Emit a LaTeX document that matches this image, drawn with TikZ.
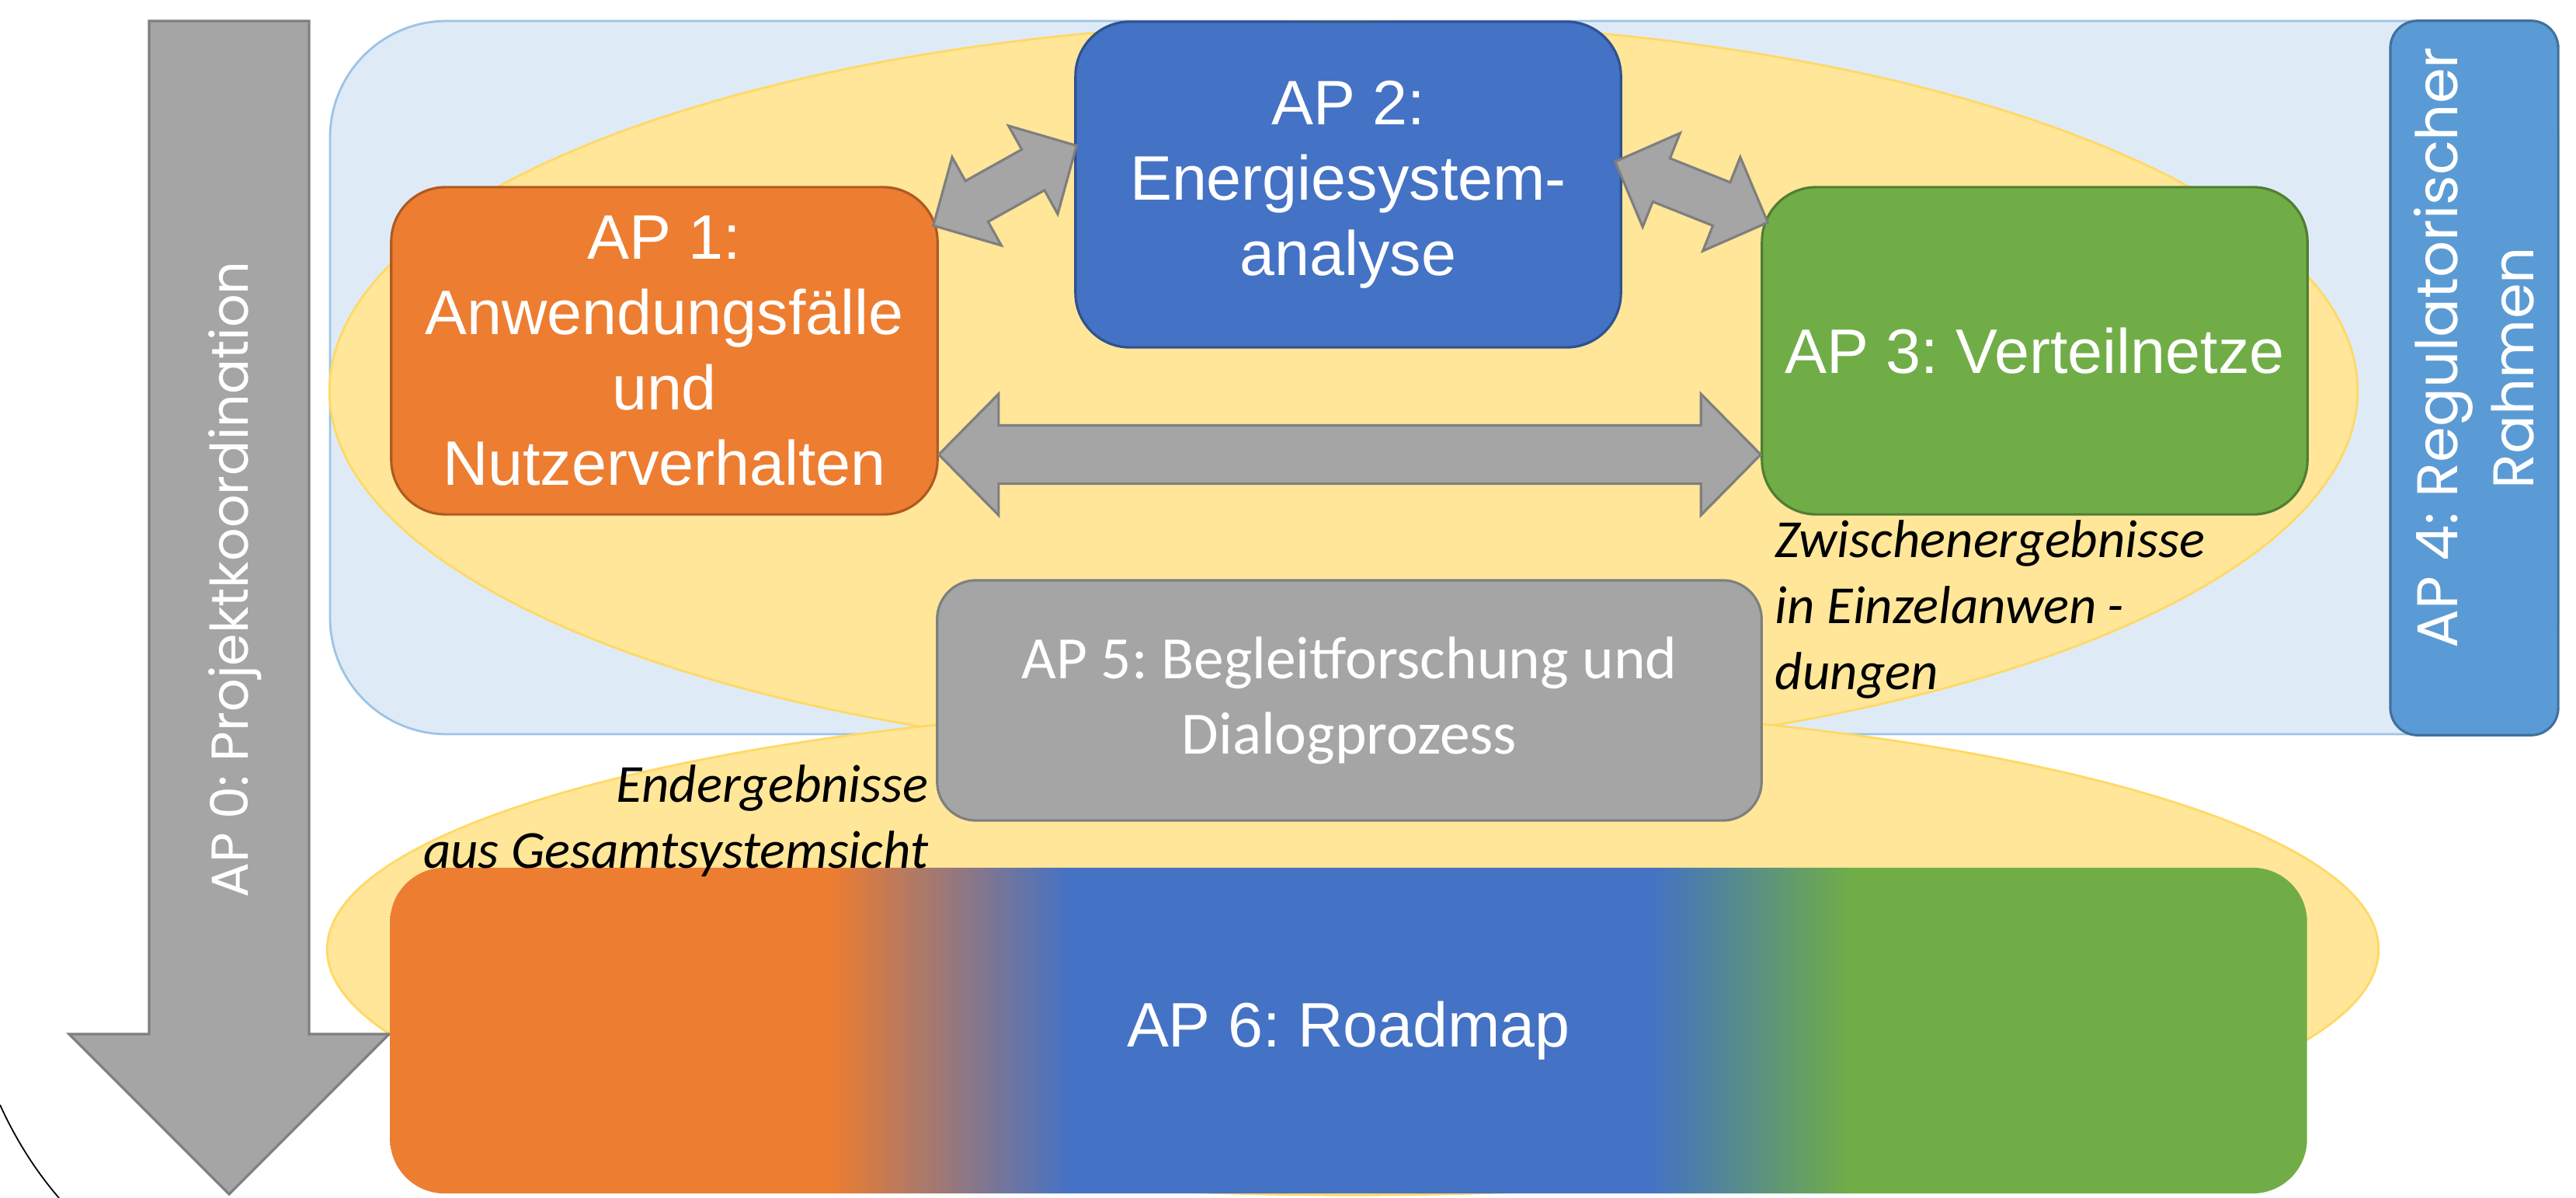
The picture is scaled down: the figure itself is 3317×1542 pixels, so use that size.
\documentclass[tikz,border=0pt]{standalone}
\usepackage{fontspec}
\usepackage{tikz}
\usetikzlibrary{calc}
\newfontfamily\arialfont{Liberation Sans}
\newfontfamily\calibrifont{Carlito}
\newfontfamily\gothicfont{Poppins}
\frenchspacing
\newcommand{\pixel}{0.01cm}
\definecolor{aporange}{HTML}{ED7D31}
\definecolor{aporangeline}{HTML}{AE5A21}
\definecolor{apblue}{HTML}{4472C4}
\definecolor{apblueline}{HTML}{2F528F}
\definecolor{apgreen}{HTML}{70AD47}
\definecolor{apgreenline}{HTML}{507E32}
\definecolor{apgray}{HTML}{A5A5A5}
\definecolor{apgrayline}{HTML}{7F7F7F}
\definecolor{apsky}{HTML}{5B9BD5}
\definecolor{apskyline}{HTML}{41719C}
\definecolor{apframe}{HTML}{DEEBF7}
\definecolor{apframeline}{HTML}{9DC3E6}
\definecolor{cloud}{HTML}{FFE699}
\definecolor{cloudline}{HTML}{FFD966}
\pgfdeclarehorizontalshading{roadmapshade}{100bp}{color(0bp)=(aporange); color(36.5bp)=(aporange); color(42.7bp)=(apblue); color(57.9bp)=(apblue); color(63.1bp)=(apgreen); color(100bp)=(apgreen)}
\newcommand{\fatarrow}[5]{
	\coordinate (fa1) at ($(#1)!#3!(#2)$);
	\coordinate (fa2) at ($(#2)!#3!(#1)$);
	\draw[fatline] (#1) -- ($(fa1)!#4!90:(#2)$) -- ($(fa1)!#5!90:(#2)$) -- ($(fa2)!#5!-90:(#1)$) -- ($(fa2)!#4!-90:(#1)$) -- (#2)
		-- ($(fa2)!#4!90:(#1)$) -- ($(fa2)!#5!90:(#1)$) -- ($(fa1)!#5!-90:(#2)$) -- ($(fa1)!#4!-90:(#2)$) -- cycle;
}

\begin{document}
\begin{tikzpicture}[x=\pixel,y=-\pixel,
	apbox/.style={draw, line width=0.9pt, rounded corners=0.7cm, inner sep=0pt, text=white, align=center, font=\arialfont\fontsize{23pt}{27.6pt}\selectfont},
	fatline/.style={draw=apgrayline, fill=apgray, line width=0.9pt},
	note/.style={inner sep=0pt, font=\calibrifont\itshape\fontsize{19.6pt}{24.2pt}\selectfont}]
	\useasboundingbox (0,0) rectangle (3317,1542);

	\draw[fill=apframe, draw=apframeline, line width=0.8pt, rounded corners=1.5cm] (425,27) rectangle (3294,945);
	\draw[fill=cloud, draw=cloudline, line width=0.8pt] (1730,503) ellipse [x radius=13.05cm, y radius=4.75cm];
	\draw[fill=cloud, draw=cloudline, line width=0.8pt] (1742,1222) ellipse [x radius=13.2cm, y radius=3.16cm];
	\draw[line width=0.5pt] (0,1422) .. controls (20,1466) and (45,1506) .. (76,1542);

	\draw[fill=apgray, draw=apgrayline, line width=0.9pt] (192,27) -- (398,27) -- (398,1331) -- (501,1331) -- (295,1537) -- (89,1331) -- (192,1331) -- cycle;
	\node[rotate=90, anchor=base, text=white, font=\gothicfont\fontsize{19pt}{22.8pt}\selectfont] (ap0) at (319,746) {AP 0: Projektkoordination};

	\node[apbox, fill=aporange, draw=aporangeline, minimum width=7.03cm, minimum height=4.21cm] (ap1) at (855.5,451.5) {AP 1:\\Anwendungsfälle\\und\\Nutzerverhalten};
	\node[apbox, fill=apblue, draw=apblueline, minimum width=7.02cm, minimum height=4.19cm] (ap2) at (1736,237.5) {AP 2:\\Energiesystem-\\analyse};
	\node[apbox, fill=apgreen, draw=apgreenline, minimum width=7.02cm, minimum height=4.21cm] (ap3) at (2620,451.5) {AP 3: Verteilnetze};
	\node[apbox, fill=apsky, draw=apskyline, rounded corners=0.35cm, rotate=90, minimum width=9.19cm, minimum height=2.16cm, font=\gothicfont\fontsize{21pt}{27.9pt}\selectfont] (ap4) at (3186,486.5) {\hspace*{0.78cm}AP 4: Regulatorischer\\\hspace*{0.26cm}Rahmen};
	\node[apbox, fill=apgray, draw=apgrayline, rounded corners=0.5cm, minimum width=10.61cm, minimum height=3.09cm, font=\calibrifont\fontsize{22pt}{27.6pt}\selectfont] (ap5) at (1737.5,901.5) {AP 5: Begleitforschung und\\Dialogprozess};
	\node[apbox, draw=none, shade, shading=roadmapshade, minimum width=24.67cm, minimum height=4.19cm] (ap6) at (1736.5,1326.5) {AP 6: Roadmap};

	\node[note, anchor=north west, align=left] (zwischen) at (2285,669) {Zwischenergebnisse\\in Einzelanwen\hspace{0.2em}-\\dungen};
	\node[note, anchor=north east, align=right] (ender) at (1196,984) {Endergebnisse\\aus Gesamtsystemsicht};

	\coordinate (d1a) at ([xshift=-0.07cm,yshift=-0.51cm]ap1.north east);
	\coordinate (d1b) at ([xshift=0.03cm,yshift=0.5cm]ap2.west);
	\coordinate (d2a) at ([xshift=-0.09cm,yshift=0.295cm]ap2.east);
	\coordinate (d2b) at ([xshift=0.09cm,yshift=-0.47cm]ap3.north west);
	\coordinate (h1) at ([yshift=-1.335cm]ap1.east);
	\coordinate (h3) at ([yshift=-1.335cm]ap3.west);
	\fatarrow{d1a}{d1b}{0.64cm}{0.65cm}{0.3cm}
	\fatarrow{d2a}{d2b}{0.64cm}{0.65cm}{0.3cm}
	\fatarrow{h1}{h3}{0.77cm}{0.78cm}{0.375cm}
\end{tikzpicture}
\end{document}
